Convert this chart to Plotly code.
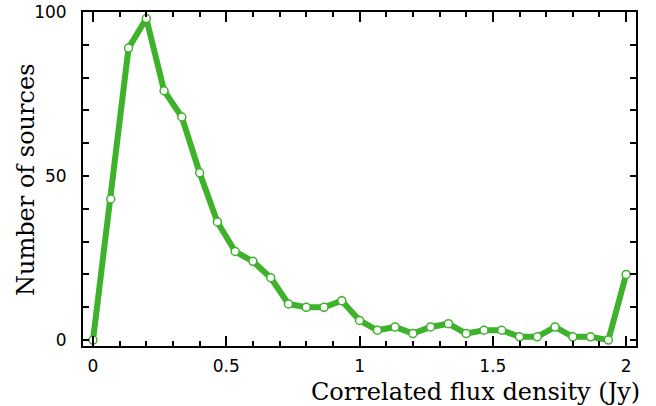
import plotly.graph_objects as go

flux_jy = [0, 0.0667, 0.1333, 0.2, 0.2667, 0.3333, 0.4, 0.4667, 0.5333, 0.6,
           0.6667, 0.7333, 0.8, 0.8667, 0.9333, 1.0, 1.0667, 1.1333, 1.2, 1.2667,
           1.3333, 1.4, 1.4667, 1.5333, 1.6, 1.6667, 1.7333, 1.8, 1.8667, 1.9333, 2.0]
n_sources = [0, 43, 89, 98, 76, 68, 51, 36, 27, 24,
             19, 11, 10, 10, 12, 6, 3, 4, 2, 4,
             5, 2, 3, 3, 1, 1, 4, 1, 1, 0, 20]

x_ticks = [0, 0.5, 1, 1.5, 2]
x_ticklabels = ["0", "0.5", "1", "1.5", "2"]
y_ticks = [0, 50, 100]
y_ticklabels = ["0", "50", "100"]

green = "#3db22a"

fig = go.Figure()
fig.add_trace(go.Scatter(
    x=flux_jy, y=n_sources, mode="lines+markers",
    line=dict(color=green, width=6),
    marker=dict(symbol="circle", size=8, color="white",
                line=dict(color=green, width=1.5)),
    showlegend=False,
))

tickfont = dict(family="DejaVu Sans", size=17, color="black")
fig.update_xaxes(
    range=[-0.0375, 2.037], tickvals=x_ticks, ticktext=x_ticklabels,
    ticks="inside", ticklen=10, tickwidth=2, tickcolor="black",
    minor=dict(dtick=0.1, tick0=0, ticks="inside", ticklen=5, tickwidth=2, tickcolor="black"),
    showline=True, linewidth=2, linecolor="black", mirror="ticks",
    showgrid=False, zeroline=False, tickfont=tickfont, automargin=False,
    ticklabelstandoff=4,
)
fig.update_yaxes(
    range=[-1.8, 100], tickvals=y_ticks, ticktext=y_ticklabels,
    ticks="inside", ticklen=6, tickwidth=2, tickcolor="black",
    minor=dict(dtick=10, tick0=0, ticks="inside", ticklen=6, tickwidth=2, tickcolor="black"),
    showline=True, linewidth=2, linecolor="black", mirror="ticks",
    showgrid=False, zeroline=False, tickfont=tickfont,
    ticklabelstandoff=11, automargin=False,
)

fig.add_annotation(
    text="Correlated flux density (Jy)", xref="paper", yref="paper",
    x=1.01, y=0, yshift=-46, xanchor="right", yanchor="middle", showarrow=False,
    font=dict(family="DejaVu Serif", size=24, color="black"),
)
fig.add_annotation(
    text="Number of sources", xref="paper", yref="paper",
    x=0, xshift=-57, y=0.497, xanchor="center", yanchor="middle", textangle=-90,
    showarrow=False, font=dict(family="DejaVu Serif", size=24, color="black"),
)

fig.update_layout(
    width=656, height=406,
    margin=dict(l=83, r=20, t=12, b=60),
    paper_bgcolor="white", plot_bgcolor="white",
)

fig.write_html(
    "out.html",
    config={"displayModeBar": False},
    post_script="document.body.style.margin='0';document.body.style.overflow='hidden';",
)
